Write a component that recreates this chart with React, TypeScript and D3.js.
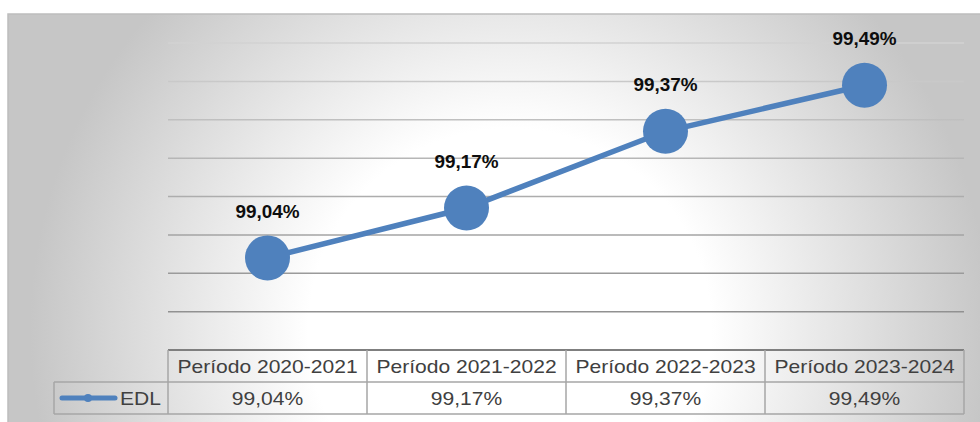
import React from "react";
import * as d3 from "d3";

const periods = ["Período 2020-2021", "Período 2021-2022", "Período 2022-2023", "Período 2023-2024"];
const seriesName = "EDL";
const edlValues = [99.04, 99.17, 99.37, 99.49];
const yDomain = [98.8, 99.6];

const W = 980;
const H = 422;
const blue = "#4f81bd";

const fmt = (v: number) => d3.format(".2f")(v).replace(".", ",") + "%";

export default function App() {
  // plot area
  const left = 168, right = 964, top = 43, bottom = 350;
  const rowH = 32;

  const x = d3.scaleBand<string>().domain(periods).range([left, right]);
  const y = d3.scaleLinear().domain(yDomain).range([bottom, top]);
  const cx = (p: string) => (x(p) ?? 0) + x.bandwidth() / 2;

  const pts: [number, number][] = periods.map((p, i) => [cx(p), y(edlValues[i])]);
  const path = d3.line()(pts) ?? "";

  const grid = y.ticks(8).filter(t => t > yDomain[0] + 1e-9);

  const textStyle = { fontFamily: "'Liberation Sans', Arial, sans-serif", fontSize: 18, fill: "#404040" };

  return (
    <svg width={W} height={H} style={{ position: "absolute", left: 0, top: 0 }}>
      <defs>
        <radialGradient id="bg" gradientUnits="userSpaceOnUse" cx={510} cy={330} r={480}>
          <stop offset="0" stopColor="#ffffff" />
          <stop offset="0.42" stopColor="#ffffff" />
          <stop offset="1" stopColor="#c6c6c6" />
        </radialGradient>
        <linearGradient id="gridGrad" gradientUnits="userSpaceOnUse" x1={0} y1={top} x2={0} y2={bottom}>
          <stop offset="0" stopColor="#d2d2d2" />
          <stop offset="1" stopColor="#888888" />
        </linearGradient>
      </defs>

      <rect x={8} y={14} width={W} height={H} fill="url(#bg)" stroke="#bdbdbd" strokeWidth={1.5} />

      {/* gridlines */}
      {grid.map(t => (
        <line key={t} x1={left} x2={right} y1={y(t)} y2={y(t)} stroke="url(#gridGrad)" strokeWidth={1.5} />
      ))}

      {/* data table */}
      <line x1={left} x2={right} y1={bottom} y2={bottom} stroke="#7f7f7f" strokeWidth={2} />
      <g stroke="#a6a6a6" strokeWidth={1.5} fill="none">
        <line x1={54} x2={right} y1={bottom + rowH} y2={bottom + rowH} />
        <line x1={54} x2={right} y1={bottom + 2 * rowH} y2={bottom + 2 * rowH} />
        <line x1={54} x2={54} y1={bottom + rowH} y2={bottom + 2 * rowH} />
        {periods.map(p => (
          <line key={p} x1={x(p)} x2={x(p)} y1={bottom} y2={bottom + 2 * rowH} />
        ))}
        <line x1={right} x2={right} y1={bottom} y2={bottom + 2 * rowH} />
      </g>
      {periods.map((p, i) => (
        <g key={p}>
          <text transform={`translate(${cx(p)},${bottom + 23}) scale(1.17,1)`} textAnchor="middle" style={textStyle}>{p}</text>
          <text transform={`translate(${cx(p)},${bottom + rowH + 23}) scale(1.17,1)`} textAnchor="middle" style={textStyle}>{fmt(edlValues[i])}</text>
        </g>
      ))}

      {/* legend key */}
      <line x1={62} x2={115} y1={bottom + rowH + 16} y2={bottom + rowH + 16} stroke={blue} strokeWidth={5} strokeLinecap="round" />
      <circle cx={88} cy={bottom + rowH + 16} r={4} fill={blue} />
      <text transform={`translate(120,${bottom + rowH + 23}) scale(1.17,1)`} style={textStyle}>{seriesName}</text>

      {/* series */}
      <path d={path} fill="none" stroke={blue} strokeWidth={5.5} />
      {pts.map(([px, py], i) => (
        <circle key={i} cx={px} cy={py} r={22.5} fill={blue} />
      ))}
      {pts.map(([px, py], i) => (
        <text key={"l" + i} transform={`translate(${px},${py - 40}) scale(1.05,1)`} textAnchor="middle"
          style={{ fontFamily: "'Liberation Sans', Arial, sans-serif", fontSize: 18, fontWeight: "bold", fill: "#0d0d0d" }}>
          {fmt(edlValues[i])}
        </text>
      ))}
    </svg>
  );
}
